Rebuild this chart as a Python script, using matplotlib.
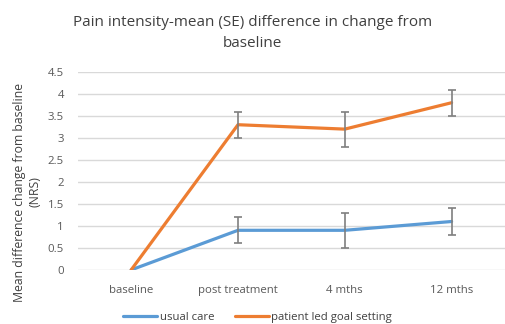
import matplotlib
matplotlib.use("Agg")
import matplotlib.pyplot as plt

categories = ["baseline", "post treatment", "4 mths", "12 mths"]
usual_care = [0, 0.9, 0.9, 1.1]
usual_err = [0, 0.3, 0.4, 0.3]
goal_setting = [0, 3.3, 3.2, 3.8]
goal_err = [0, 0.3, 0.4, 0.3]
yticks = [0, 0.5, 1, 1.5, 2, 2.5, 3, 3.5, 4, 4.5]
ytick_labels = ["0", "0.5", "1", "1.5", "2", "2.5", "3", "3.5", "4", "4.5"]

plt.rcParams['font.family'] = ['Open Sans', 'DejaVu Sans']
fig = plt.figure(figsize=(5.05, 3.24), dpi=100)
ax = fig.add_axes([0.154, 0.167, 0.846, 0.611])

x = list(range(len(categories)))
grey = "#7f7f7f"
ax.errorbar(x[1:], usual_care[1:], yerr=usual_err[1:], fmt="none", ecolor=grey,
            elinewidth=1.2, capsize=3, capthick=1.2, zorder=3)
ax.errorbar(x[1:], goal_setting[1:], yerr=goal_err[1:], fmt="none", ecolor=grey,
            elinewidth=1.2, capsize=3, capthick=1.2, zorder=3)
ax.plot(x, usual_care, color="#5B9BD5", lw=2.3, label="usual care", zorder=2, solid_capstyle="round")
ax.plot(x, goal_setting, color="#ED7D31", lw=2.3, label="patient led goal setting", zorder=2, solid_capstyle="round")

ax.set_xlim(-0.5, 3.5)
ax.set_ylim(0, 4.5)
ax.set_yticks(yticks)
ax.set_yticklabels(ytick_labels)
ax.set_xticks(x)
ax.set_xticklabels(categories)
ax.yaxis.grid(True, color="#d9d9d9", lw=1)
ax.set_axisbelow(True)
for s in ax.spines.values():
    s.set_visible(False)
ax.tick_params(axis="both", length=0, labelsize=8.2, colors="#595959", pad=10)
ax.tick_params(axis="x", pad=11)

fig.text(27 / 505, 1 - 192 / 324, "Mean difference change from baseline\n(NRS)",
         rotation=90, ha="center", va="center", fontsize=8.8, color="#404040", linespacing=1.25)

fig.text(0.5, 0.898, "Pain intensity-mean (SE) difference in change from\nbaseline",
         ha="center", va="center", fontsize=11, color="#404040", linespacing=1.5)

fig.legend(loc="center", bbox_to_anchor=(0.51, 0.02), ncol=2, frameon=False, fontsize=8.2,
           handlelength=3, columnspacing=1.8, handletextpad=0.2, labelcolor="#404040")

fig.savefig("out.png", dpi=100)
